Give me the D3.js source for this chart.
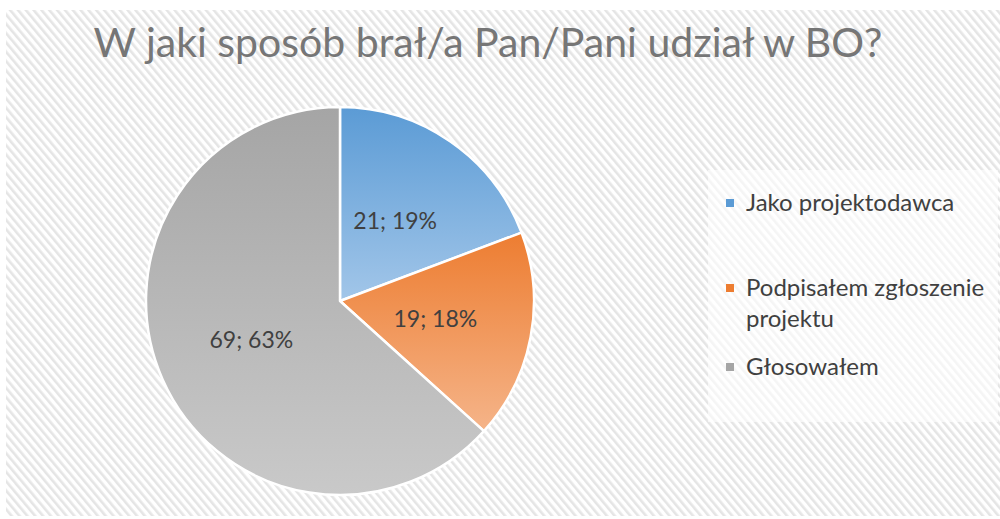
<!DOCTYPE html>
<html><head><meta charset="utf-8">
<script src="https://cdn.jsdelivr.net/npm/d3@7"></script>
<style>html,body{margin:0;padding:0;background:#fff;}svg{display:block;}</style>
</head><body>
<svg id="chart" width="1000" height="519"></svg>
<script>
const title = "W jaki sposób brał/a Pan/Pani udział w BO?";
const categories = ["Jako projektodawca", "Podpisałem zgłoszenie projektu", "Głosowałem"];
const values = [21, 19, 69];
const percents = [19, 18, 63];
const legendLines = [["Jako projektodawca"], ["Podpisałem zgłoszenie", "projektu"], ["Głosowałem"]];
const colorsTop = ["#5b9bd5", "#ed7d31", "#a5a5a5"];
const colorsBottom = ["#a2c6e9", "#f5b489", "#c9c9c9"];
const swatch = ["#5b9bd5", "#ed7d31", "#a5a5a5"];

const svg = d3.select("#chart");
const defs = svg.append("defs");
const pat = defs.append("pattern").attr("id","hatch").attr("patternUnits","userSpaceOnUse")
  .attr("width",6).attr("height",6).attr("patternTransform","rotate(-40)");
pat.append("rect").attr("width",6).attr("height",6).attr("fill","#ffffff");
pat.append("rect").attr("x",0).attr("width",2.6).attr("height",6).attr("fill","#e5e5e5");

svg.append("rect").attr("x",6).attr("y",10).attr("width",994).attr("height",506).attr("fill","url(#hatch)");

svg.append("text").attr("x",488).attr("y",57).attr("text-anchor","middle")
  .attr("font-family","Lato, 'Open Sans', sans-serif").attr("font-size",41)
  .attr("fill","#767676").text(title);

const cx = 340, cy = 301, r = 194;
const pie = d3.pie().sort(null).value(d => d)(values);
const arc = d3.arc().innerRadius(0).outerRadius(r);

pie.forEach((p,i) => {
  const ys = [0];
  for (let t = p.startAngle; t <= p.endAngle; t += 0.01) ys.push(-r*Math.cos(t));
  ys.push(-r*Math.cos(p.endAngle));
  const gr = defs.append("linearGradient").attr("id","grad"+i).attr("gradientUnits","userSpaceOnUse")
    .attr("x1",0).attr("x2",0).attr("y1",d3.min(ys)).attr("y2",d3.max(ys));
  gr.append("stop").attr("offset","0%").attr("stop-color",colorsTop[i]);
  gr.append("stop").attr("offset","100%").attr("stop-color",colorsBottom[i]);
});

const g = svg.append("g").attr("transform",`translate(${cx},${cy})`);
g.selectAll("path").data(pie).join("path")
  .attr("d",arc).attr("fill",(d,i)=>`url(#grad${i})`)
  .attr("stroke","#fff").attr("stroke-width",2.5).attr("stroke-linejoin","round");

const labelArc = d3.arc().innerRadius(r*0.5).outerRadius(r*0.5);
g.selectAll("text").data(pie).join("text")
  .attr("transform",d=>`translate(${labelArc.centroid(d)})`)
  .attr("text-anchor","middle").attr("dy","0.35em")
  .attr("font-family","Lato, 'Open Sans', sans-serif").attr("font-size",23).attr("fill","#404040")
  .text((d,i)=>`${values[i]}; ${percents[i]}%`);

// legend
svg.append("rect").attr("x",708).attr("y",170).attr("width",290).attr("height",252).attr("fill","#ffffff").attr("opacity",0.6);
const legY = [203, 288, 367];
const lg = svg.append("g");
categories.forEach((c,i)=>{
  lg.append("rect").attr("x",726).attr("y",legY[i]-4).attr("width",8).attr("height",8).attr("fill",swatch[i]);
  legendLines[i].forEach((ln,j)=>{
    lg.append("text").attr("x",746).attr("y",legY[i]+j*31).attr("dy","0.35em")
      .attr("font-family","Lato, 'Open Sans', sans-serif").attr("font-size",24).attr("fill","#404040").text(ln);
  });
});
</script>
</body></html>
